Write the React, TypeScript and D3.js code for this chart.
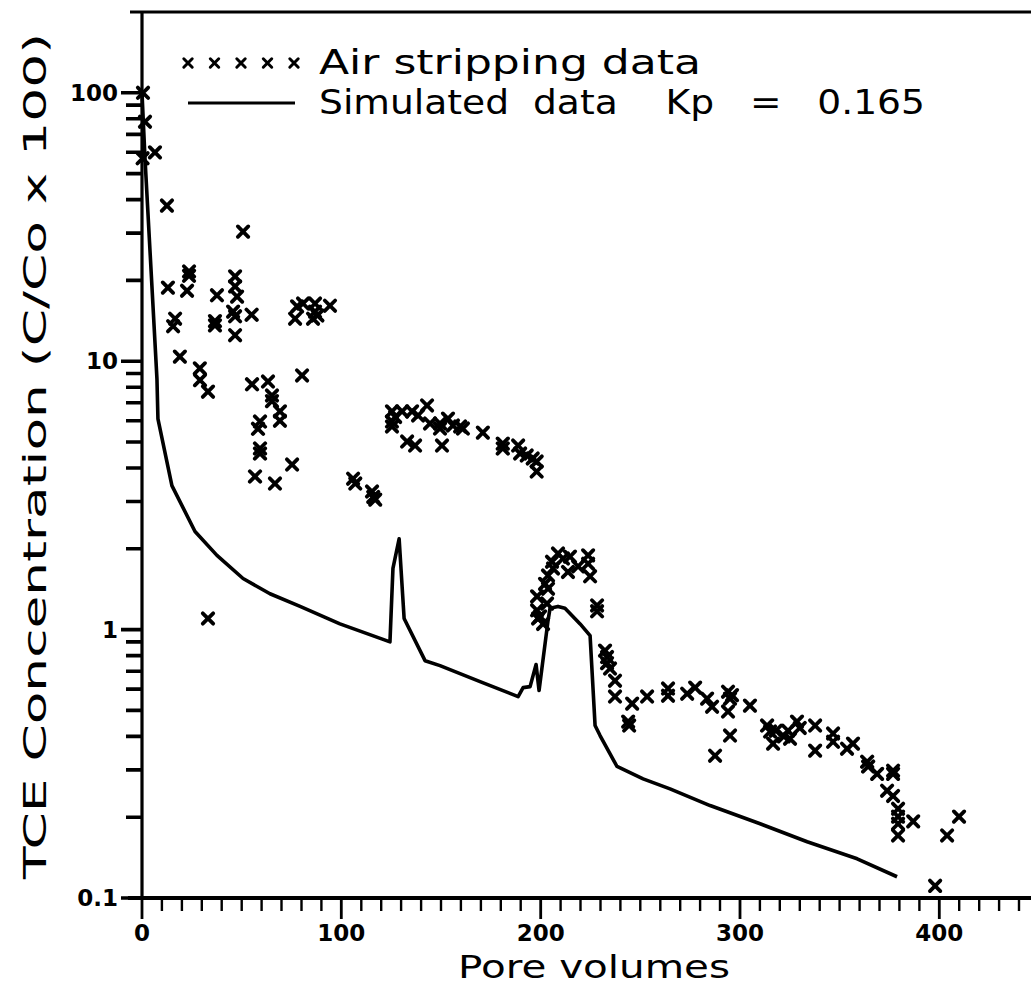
import React from 'react'
import * as d3 from 'd3'

// air stripping measurements (pore volumes, C/Co x 100)
const airPV = [
  0.5, 1.5, 0.3, 6.5, 12.5, 50.7, 23.6, 23.6, 13, 22.6, 37.6, 46.7, 46.7, 47.7, 45.7, 46.7, 55,
  16.6, 15.6, 36.6, 36.6, 46.7, 19, 29, 29.1, 33.1, 55.2, 63.2, 65.2, 65.2, 69.2, 69.2, 59.2,
  58.2, 59.2, 59.2, 75.3, 56.7, 66.7, 80.3, 77.8, 80.8, 86.8, 94.3, 86.8, 85.8, 76.8, 88,
  105.9, 107, 115.4, 117, 116, 33.1,
  125.4, 125.4, 125.4, 130.5, 135.5, 138.5, 143, 144.5, 149.5, 149.5, 153.5, 156, 159.6, 161,
  133, 137, 150.5, 171, 181, 181, 188.7, 189.7, 193, 196, 198, 198, 127,
  208.7, 211.2, 214.7, 205.7, 206.2, 203.7, 202.2, 203.7, 198.2, 203.2, 198.2, 199.7, 201.2,
  198.7, 213.7, 218.8, 223.8, 223.8, 224.8, 228.3, 228.3, 232.3, 233.3, 233.3, 234.8, 237.3,
  237.3, 245.9, 253.4, 243.9, 244.4, 263.9, 263.9, 273.5, 277.5, 283.5, 286, 294, 295, 294,
  295, 287.5, 305, 313.6, 315.1, 316.6, 324.1, 325.1, 328.6, 337.7, 337.7, 346.7, 346.7,
  353.7, 356.7, 363.8, 364.3, 368.8, 376.8, 376.8, 373.8, 376.8, 379.3, 379.3, 379.3, 379.3,
  386.9, 403.9, 409.9, 397.9, 318, 322, 330, 296
]
const airConc = [
  100, 78, 57, 60, 38, 30.4, 21.6, 20.8, 18.8, 18.3, 17.6, 20.7, 19, 17.4, 15.3, 14.7, 14.9,
  14.4, 13.5, 14.1, 13.6, 12.5, 10.4, 9.4, 8.5, 7.7, 8.2, 8.4, 7.45, 7.1, 6.5, 6.0, 5.96,
  5.6, 4.73, 4.53, 4.12, 3.72, 3.5, 8.85, 16.0, 16.4, 16.4, 16.1, 15.3, 14.4, 14.4, 14.8,
  3.65, 3.5, 3.27, 3.05, 3.12, 1.1,
  6.5, 5.96, 5.71, 6.5, 6.5, 6.28, 6.84, 5.86, 5.86, 5.61, 6.11, 5.76, 5.71, 5.61,
  5.02, 4.85, 4.85, 5.42, 4.93, 4.73, 4.85, 4.53, 4.45, 4.34, 4.23, 3.88, 6.2,
  1.92, 1.84, 1.87, 1.79, 1.69, 1.59, 1.48, 1.42, 1.33, 1.25, 1.18, 1.12, 1.05,
  1.10, 1.64, 1.72, 1.89, 1.76, 1.58, 1.23, 1.17, 0.835, 0.79, 0.75, 0.716, 0.645,
  0.563, 0.53, 0.563, 0.454, 0.439, 0.603, 0.567, 0.577, 0.608, 0.553, 0.516, 0.587, 0.553, 0.495,
  0.403, 0.339, 0.521, 0.439, 0.417, 0.376, 0.42, 0.392, 0.454, 0.439, 0.354, 0.41, 0.382,
  0.36, 0.376, 0.322, 0.309, 0.29, 0.298, 0.29, 0.251, 0.24, 0.215, 0.201, 0.189, 0.171,
  0.193, 0.171, 0.201, 0.111, 0.42, 0.40, 0.43, 0.57
]

// simulated curve, Kp = 0.165
const simPV = [
  0, 1.5, 7.5, 8, 15, 26.6, 37.6, 50.7, 64.2, 79.3, 99.3, 124.4, 125.9, 129, 131.5, 142,
  149.5, 169.6, 188.7, 191.2, 194.7, 197.7, 199.2, 203.7, 204.7, 208.7, 212.2, 219.8, 224.8,
  227.3, 229.8, 238.3, 251.4, 264.9, 285, 310.1, 333.7, 358.8, 378.8
]
const simConc = [
  100, 57, 8.6, 6.1, 3.44, 2.32, 1.89, 1.55, 1.36, 1.22, 1.05, 0.9, 1.69, 2.18, 1.1, 0.766,
  0.734, 0.64, 0.563, 0.608, 0.613, 0.741, 0.593, 1.08, 1.2, 1.22, 1.2, 1.05, 0.95,
  0.439, 0.403, 0.309, 0.278, 0.255, 0.221, 0.189, 0.162, 0.14, 0.12
]

const yTicks = [0.1, 1, 10, 100]
const yTickLabels = ['0.1', '1', '10', '100']
const yMinorTicks = [0.2, 0.3, 0.4, 0.5, 0.6, 0.7, 0.8, 0.9, 2, 3, 4, 5, 6, 7, 8, 9, 20, 30, 40, 50, 60, 70, 80, 90]
const xTicks = [0, 100, 200, 300, 400]

const FONT = '"DejaVu Sans", Verdana, sans-serif'

function cross(s: number) {
  return `M${-s},${-s}L${s},${s}M${-s},${s}L${s},${-s}`
}

export default function App() {
  const x = d3.scaleLinear().domain([0, 446]).range([142, 1031])
  const y = d3.scaleLog().domain([0.1, 200]).range([898, 12])

  const xMinor = d3.range(10, 450, 10).filter(v => v % 100 !== 0)

  const simLine = d3.line<number>()
    .x((d, i) => x(simPV[i]))
    .y(d => y(d))
    .curve(d3.curveLinear)

  const x0 = x(0)
  const yb = y(0.1)
  const yt = y(200)

  const yMinorPath = yMinorTicks.map(v => `M${x0 - 16},${y(v).toFixed(1)}H${x0}`).join('')
  const yMajorPath = yTicks.map(v => `M${x0 - 21},${y(v).toFixed(1)}H${x0}`).join('')
  const xMinorPath = xMinor.map(v => `M${x(v).toFixed(1)},${yb}V${yb + 13}`).join('')
  const xMajorPath = xTicks.map(v => `M${x(v).toFixed(1)},${yb}V${yb + 21}`).join('')

  const legendMarks = d3.range(5).map(i => 188 + i * 26.5)

  return (
    <svg width={1031} height={991} style={{ position: 'absolute', left: 0, top: 0, background: '#fff' }}
      fontFamily={FONT}>
      {/* ticks */}
      <path d={yMinorPath} stroke="#000" strokeWidth={3.6} fill="none" />
      <path d={yMajorPath} stroke="#000" strokeWidth={3.6} fill="none" />
      <path d={xMinorPath} stroke="#000" strokeWidth={2.4} fill="none" />
      <path d={xMajorPath} stroke="#000" strokeWidth={2.8} fill="none" />

      {/* frame */}
      <line x1={130} x2={1031} y1={yt} y2={yt} stroke="#000" strokeWidth={3} />
      <line x1={x0} x2={x0} y1={yt} y2={yb} stroke="#000" strokeWidth={3.2} />
      <line x1={128} x2={1031} y1={yb} y2={yb} stroke="#000" strokeWidth={4} />

      {yTicks.map((v, i) => (
        <text key={'yt' + v} x={118} y={y(v)} dy="0.36em" textAnchor="end" fontSize={23} fontWeight="bold">
          {yTickLabels[i]}
        </text>
      ))}
      {xTicks.map(v => (
        <text key={'xt' + v} x={x(v)} y={941} textAnchor="middle" fontSize={23} fontWeight="bold">{v}</text>
      ))}

      {/* axis titles */}
      <text x={594} y={978} textAnchor="middle" fontSize={32} textLength={272} lengthAdjust="spacingAndGlyphs">
        Pore volumes
      </text>
      <text transform="translate(46,456) rotate(-90)" textAnchor="middle" fontSize={32}
        textLength={846} lengthAdjust="spacingAndGlyphs">
        TCE Concentration (C/Co x 100)
      </text>

      {/* simulated line */}
      <path d={simLine(simConc) || ''} fill="none" stroke="#000" strokeWidth={3.6} strokeLinejoin="round" />

      {/* measured points */}
      {airPV.map((pv, i) => (
        <path key={'a' + i} transform={`translate(${x(pv)},${y(airConc[i])})`} d={cross(5.2)}
          stroke="#000" strokeWidth={3.8} strokeLinecap="round" fill="none" />
      ))}

      {/* legend */}
      {legendMarks.map((lx, i) => (
        <path key={'lm' + i} transform={`translate(${lx},63)`} d={cross(4.2)}
          stroke="#000" strokeWidth={3} strokeLinecap="round" fill="none" />
      ))}
      <text x={319} y={74} fontSize={33} textLength={382} lengthAdjust="spacingAndGlyphs">
        Air  stripping  data
      </text>
      <line x1={188} x2={295} y1={103} y2={103} stroke="#000" strokeWidth={3} />
      <text x={319} y={114} fontSize={33} textLength={606} lengthAdjust="spacingAndGlyphs" xmlSpace="preserve"
        style={{ whiteSpace: 'pre' }}>
        {'Simulated  data    Kp   =   0.165'}
      </text>
    </svg>
  )
}
